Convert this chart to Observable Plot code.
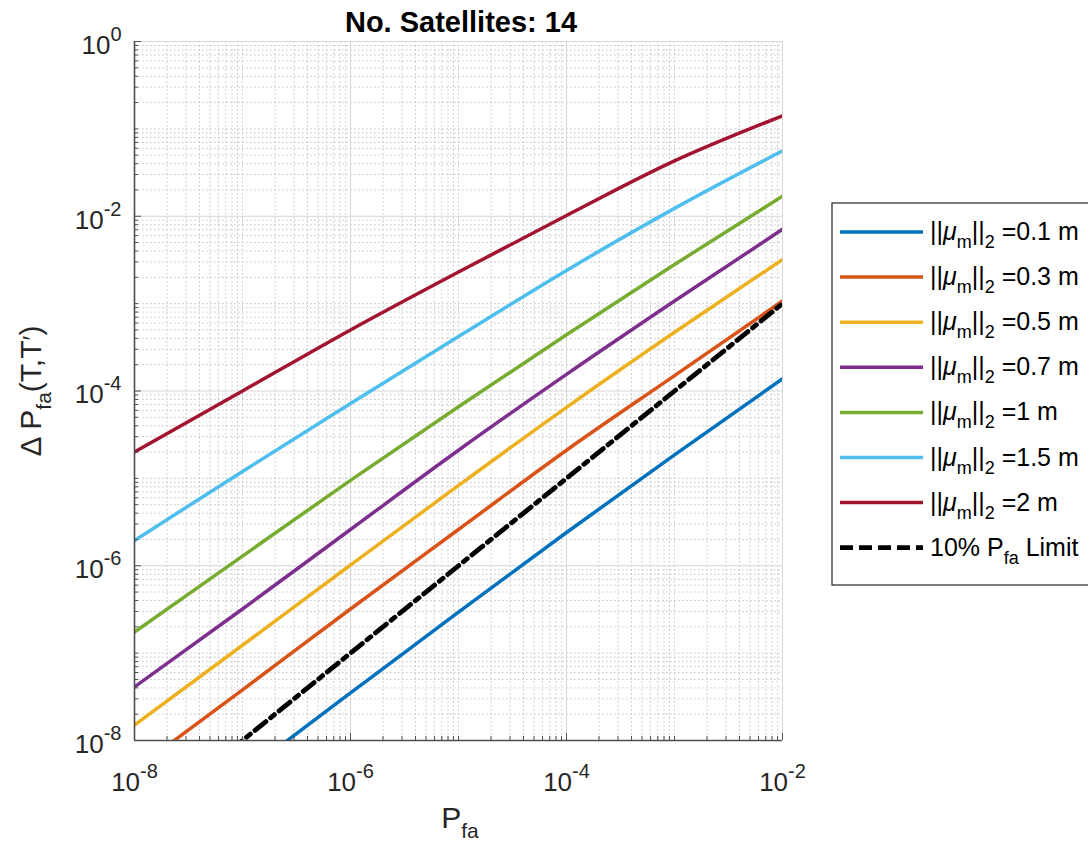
<!DOCTYPE html>
<html><head><meta charset="utf-8">
<script src="https://cdn.jsdelivr.net/npm/d3@7"></script>
<script src="https://cdn.jsdelivr.net/npm/@observablehq/plot@0.6"></script>
<style>html,body{margin:0;padding:0;background:#fff;overflow:hidden}#chart{width:1088px;height:846px}</style>
</head><body><div id="chart"></div>
<script>
// ---- data ----
const pfa = [1e-8, 1e-7, 1e-6, 1e-5, 1e-4, 1e-3, 1e-2];
const mu01 = [4.8e-10, 4.1e-9, 3.5e-8, 2.95e-7, 2.4e-6, 1.86e-5, 1.38e-4];
const mu03 = [4.6e-9, 3.8e-8, 3.2e-7, 2.6e-6, 2.1e-5, 1.5e-4, 1.07e-3];
const mu05 = [1.5e-8, 1.23e-7, 1.02e-6, 8.3e-6, 6.5e-5, 4.7e-4, 3.2e-3];
const mu07 = [4.1e-8, 3.2e-7, 2.6e-6, 2.1e-5, 1.55e-4, 1.07e-3, 7.1e-3];
const mu10 = [1.74e-7, 1.29e-6, 9.5e-6, 6.6e-5, 4.4e-4, 2.8e-3, 1.7e-2];
const mu15 = [1.95e-6, 1.2e-5, 7.2e-5, 4.2e-4, 2.4e-3, 1.23e-2, 5.6e-2];
const mu20 = [2.0e-5, 1.0e-4, 5.0e-4, 2.3e-3, 1.02e-2, 4.3e-2, 1.41e-1];
const limit10 = [1e-9, 1e-8, 1e-7, 1e-6, 1e-5, 1e-4, 1e-3];
const muLabels = ["0.1", "0.3", "0.5", "0.7", "1", "1.5", "2"];
const seriesValues = [mu01, mu03, mu05, mu07, mu10, mu15, mu20];
const colors = ["#0072BD", "#D95319", "#EDB120", "#7E2F8E", "#77AC30", "#4DBEEE", "#A2142F"];
const xTickExps = [-8, -6, -4, -2];
const yTickExps = [0, -2, -4, -6, -8];
const titleText = "No. Satellites: 14";

// ---- derived tables ----
const rows = [];
seriesValues.forEach((vals, i) => vals.forEach((v, j) => rows.push({pfa: pfa[j], value: v, series: muLabels[i]})));
const limitRows = limit10.map((v, j) => ({pfa: pfa[j], value: v}));
const xMajor = xTickExps.map(e => Math.pow(10, e));
const yMajor = yTickExps.map(e => Math.pow(10, e));
function minorTicks(lo, hi, major) {
  const out = [];
  for (let e = lo; e < hi; e++) for (let k = 1; k <= 9; k++) {
    const v = k * Math.pow(10, e);
    if (!(k === 1 && major.includes(e))) out.push(v);
  }
  if (!major.includes(hi)) out.push(Math.pow(10, hi));
  return out;
}
const xMinor = minorTicks(-8, -2, xTickExps);
const yMinor = minorTicks(-8, 0, yTickExps);
const fmt = d => "10^" + Math.round(Math.log10(d));
const axisCol = "#4d4d4d";

const chart = Plot.plot({
  width: 1088, height: 846,
  marginLeft: 134, marginRight: 306, marginTop: 41, marginBottom: 106,
  style: {fontFamily: "'Liberation Sans', Arial, Helvetica, sans-serif", fontSize: "26px", color: "#262626", background: "white"},
  x: {type: "log", domain: [1e-8, 1e-2], label: null},
  y: {type: "log", domain: [1e-8, 1], label: null},
  color: {domain: muLabels, range: colors},
  marks: [
    Plot.ruleX(xMinor, {stroke: "#c4c4c4", strokeDasharray: "1.5,2.5", strokeWidth: 1}),
    Plot.ruleY(yMinor, {stroke: "#c4c4c4", strokeDasharray: "1.5,2.5", strokeWidth: 1}),
    Plot.ruleX(xMajor, {stroke: "#d6d6d6", strokeWidth: 1}),
    Plot.ruleY(yMajor, {stroke: "#d6d6d6", strokeWidth: 1}),
    Plot.line(rows, {x: "pfa", y: "value", z: "series", stroke: "series", strokeWidth: 3.5, curve: "monotone-x", clip: true}),
    Plot.line(limitRows, {x: "pfa", y: "value", stroke: "black", strokeWidth: 4.8, strokeDasharray: "14,6,5,6", clip: true}),
    Plot.axisX(xMinor, {tickSize: -4, tickFormat: () => "", stroke: axisCol}),
    Plot.axisX(xMajor, {tickSize: -7, tickFormat: () => "", stroke: axisCol}),
    Plot.axisX(xMajor, {tickSize: 0, tickPadding: 32, tickFormat: fmt, fill: "#262626"}),
    Plot.axisY(yMinor, {tickSize: -4, tickFormat: () => "", stroke: axisCol}),
    Plot.axisY(yMajor, {tickSize: -7, tickFormat: () => "", stroke: axisCol}),
    Plot.axisY(yMajor, {tickSize: 0, tickPadding: 13, dy: 4, tickFormat: fmt, fill: "#262626"}),
    Plot.ruleX([1e-8], {stroke: axisCol, strokeWidth: 1.6}),
    Plot.ruleY([1e-8], {stroke: axisCol, strokeWidth: 1.6})
  ]
});
document.getElementById("chart").appendChild(chart);

const svg = d3.select(chart);
// superscript tick labels
svg.selectAll("text").each(function () {
  const t = this.textContent;
  if (!t || t.indexOf("^") < 0) return;
  const [base, exp] = t.split("^");
  const el = d3.select(this);
  el.text(null);
  el.append("tspan").text(base);
  el.append("tspan").attr("dy", -13).attr("font-size", 20).text(exp);
});

const font = "'Liberation Sans', Arial, Helvetica, sans-serif";
// title
svg.append("text").attr("x", 461).attr("y", 32).attr("text-anchor", "middle")
  .attr("font-family", font).attr("font-size", 29).attr("font-weight", "bold").attr("fill", "#000").text(titleText);
// x label
const xl = svg.append("text").attr("x", 460).attr("y", 828).attr("text-anchor", "middle")
  .attr("font-family", font).attr("font-size", 30).attr("fill", "#262626");
xl.append("tspan").text("P");
xl.append("tspan").attr("dy", 10).attr("font-size", 21).text("fa");
// y label
const yl = svg.append("text").attr("transform", "translate(41,391) rotate(-90)").attr("text-anchor", "middle")
  .attr("font-family", font).attr("font-size", 30).attr("fill", "#262626");
yl.append("tspan").text("\u0394 P");
yl.append("tspan").attr("dy", 10).attr("font-size", 21).text("fa");
yl.append("tspan").attr("dy", -10).text("(T,T");
yl.append("tspan").attr("font-size", 26).text("\u2032");
yl.append("tspan").text(")");

// legend
const lg = svg.append("g").attr("font-family", font).attr("font-size", 25).attr("fill", "#000").attr("text-anchor", "start");
lg.append("rect").attr("x", 832).attr("y", 203).attr("width", 300).attr("height", 382)
  .attr("fill", "white").attr("stroke", "#333").attr("stroke-width", 1.3);
const entries = muLabels.map((m, i) => ({color: colors[i], m, dash: null}));
entries.push({color: "#000", m: null, dash: "13,6"});
entries.forEach((e, i) => {
  const cy = 232 + 45.1 * i;
  lg.append("line").attr("x1", 840).attr("x2", 923).attr("y1", cy).attr("y2", cy)
    .attr("stroke", e.color).attr("stroke-width", e.m ? 3.5 : 4.8).attr("stroke-dasharray", e.dash);
  const t = lg.append("text").attr("x", 930).attr("y", cy + 8).attr("text-anchor", "start");
  if (e.m) {
    t.append("tspan").text("||");
    t.append("tspan").attr("font-style", "italic").text("\u03bc");
    t.append("tspan").attr("dy", 8).attr("font-size", 18).text("m");
    t.append("tspan").attr("dy", -8).text("||");
    t.append("tspan").attr("dy", 8).attr("font-size", 18).text("2");
    t.append("tspan").attr("dy", -8).text(" =" + e.m + " m");
  } else {
    t.append("tspan").text("10% P");
    t.append("tspan").attr("dy", 8).attr("font-size", 18).text("fa");
    t.append("tspan").attr("dy", -8).text(" Limit");
  }
});
</script>
</body></html>
